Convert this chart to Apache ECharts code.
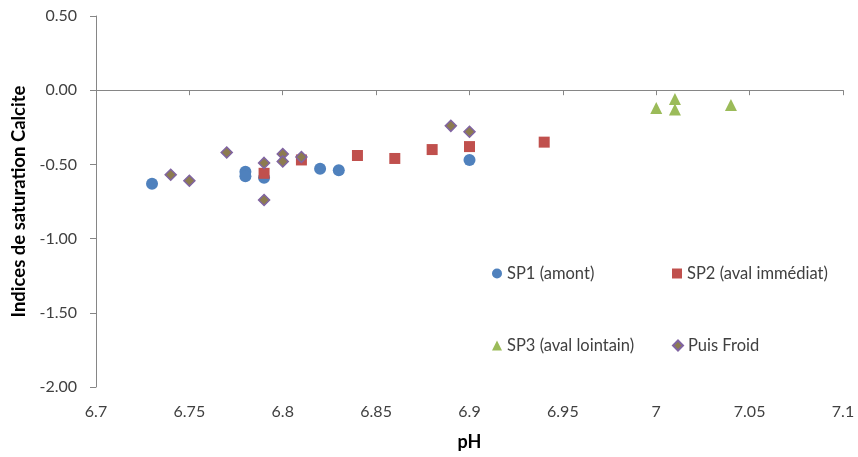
<!DOCTYPE html>
<html><head><meta charset="utf-8">
<script src="https://cdn.jsdelivr.net/npm/echarts@6/dist/echarts.min.js"></script>
<style>html,body{margin:0;padding:0;background:#fff}#c{width:858px;height:457px}</style>
</head><body><div id="c"></div>
<script>
var sp1 = [[6.73,-0.63],[6.78,-0.55],[6.78,-0.58],[6.79,-0.59],[6.82,-0.53],[6.83,-0.54],[6.90,-0.47]];
var sp2 = [[6.79,-0.56],[6.81,-0.47],[6.84,-0.44],[6.86,-0.46],[6.88,-0.40],[6.90,-0.38],[6.94,-0.35]];
var sp3 = [[7.00,-0.12],[7.01,-0.06],[7.01,-0.13],[7.04,-0.10]];
var puis = [[6.74,-0.57],[6.75,-0.61],[6.77,-0.42],[6.79,-0.49],[6.79,-0.74],[6.80,-0.43],[6.80,-0.48],[6.81,-0.45],[6.89,-0.24],[6.90,-0.28]];
var names = ['SP1 (amont)','SP2 (aval immédiat)','SP3 (aval lointain)','Puis Froid'];
var xTicks = {min:6.7,max:7.1,interval:0.05};
var yTicks = {min:-2,max:0.5,interval:0.5};

var font = 'Lato, "Open Sans", sans-serif';
var chart = echarts.init(document.getElementById('c'));
function leg(name, left, top){
  return {data:[name], left:left, top:top, itemWidth:10, itemHeight:10, itemGap:6,
    textStyle:{fontFamily:font, fontSize:16.5, color:'#404040'}};
}
chart.setOption({
  animation:false,
  textStyle:{fontFamily:font},
  grid:{left:96,right:15,top:16,bottom:70,containLabel:false,outerBoundsMode:'none'},
  legend:[leg(names[0],487,260),leg(names[1],667,260),leg(names[2],487,332),leg(names[3],667,332)],
  xAxis:{type:'value',min:xTicks.min,max:xTicks.max,interval:xTicks.interval,
    name:'pH',nameLocation:'middle',nameGap:46,
    nameTextStyle:{fontFamily:font,fontSize:18,fontWeight:'bold',color:'#000'},
    axisLine:{show:true,lineStyle:{color:'#868686'}},
    axisTick:{show:true,length:5,lineStyle:{color:'#868686'}},
    splitLine:{show:false},
    axisLabel:{fontFamily:font,fontSize:16,color:'#404040',margin:17,
      formatter:function(v){return String(+v.toFixed(2));}}},
  yAxis:{type:'value',min:yTicks.min,max:yTicks.max,interval:yTicks.interval,
    name:'Indices de saturation Calcite',nameLocation:'middle',nameGap:66,
    nameTextStyle:{fontFamily:font,fontSize:18.5,fontWeight:'bold',color:'#000'},
    axisLine:{show:true,lineStyle:{color:'#868686'}},
    axisTick:{show:true,length:6,lineStyle:{color:'#868686'}},
    splitLine:{show:false},
    axisLabel:{fontFamily:font,fontSize:16,color:'#404040',margin:19,
      formatter:function(v){return v.toFixed(2);}}},
  series:[
    {name:names[0],type:'scatter',data:sp1,symbol:'circle',symbolSize:12,itemStyle:{color:'#4F81BD',opacity:1}},
    {name:names[1],type:'scatter',data:sp2,symbol:'rect',symbolSize:11,itemStyle:{color:'#C0504D',opacity:1}},
    {name:names[2],type:'scatter',data:sp3,symbol:'triangle',symbolSize:12,itemStyle:{color:'#9BBB59',opacity:1}},
    {name:names[3],type:'scatter',data:puis,symbol:'diamond',symbolSize:11,itemStyle:{color:'#8C7B50',borderColor:'#8064A2',borderWidth:1.5,opacity:1}}
  ]
});
</script></body></html>
